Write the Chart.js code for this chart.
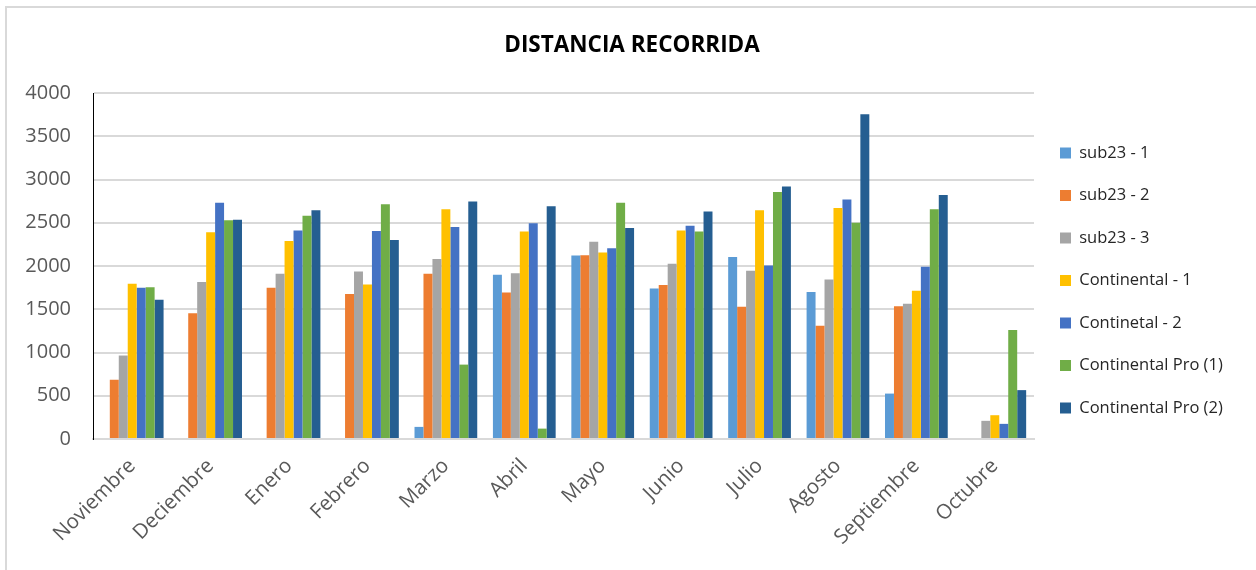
<!DOCTYPE html>
<html>
<head>
<meta charset="utf-8">
<script src="https://cdn.jsdelivr.net/npm/chart.js@4.4.1/dist/chart.umd.min.js"></script>
<style>
    html, body {
        margin: 0;
        padding: 0;
        background: #FFFFFF;
    }
    #wrap {
        position: relative;
        width: 1256px;
        height: 570px;
    }
    #frame {
        position: absolute;
        left: 5px;
        top: 6px;
        right: 0;
        bottom: 0;
        border-left: 2px solid #D9D9D9;
        border-top: 2px solid #D9D9D9;
    }
    canvas {
        position: absolute;
        left: 0;
        top: 0;
    }
</style>
</head>
<body>
<div id="wrap">
    <div id="frame"></div>
    <canvas id="distanceChart" width="1256" height="570"></canvas>
</div>
<script>
// ==========================================
// Distancia recorrida - bar chart
// ==========================================

const months = ["Noviembre", "Deciembre", "Enero", "Febrero", "Marzo", "Abril",
    "Mayo", "Junio", "Julio", "Agosto", "Septiembre", "Octubre"];

const sub23_1 = [0, 0, 0, 0, 140, 1900, 2120, 1740, 2105, 1700, 525, 0];
const sub23_2 = [685, 1455, 1750, 1675, 1910, 1695, 2125, 1780, 1530, 1310, 1535, 0];
const sub23_3 = [965, 1815, 1910, 1935, 2080, 1915, 2280, 2025, 1945, 1845, 1565, 210];
const continental_1 = [1795, 2390, 2290, 1785, 2655, 2400, 2155, 2410, 2645, 2670, 1715, 275];
const continetal_2 = [1750, 2730, 2410, 2405, 2450, 2495, 2205, 2465, 2005, 2770, 1990, 175];
const continentalPro_1 = [1755, 2530, 2580, 2715, 860, 120, 2730, 2400, 2855, 2500, 2655, 1260];
const continentalPro_2 = [1610, 2535, 2645, 2300, 2745, 2690, 2440, 2630, 2920, 3755, 2820, 565];

const yTicks = [0, 500, 1000, 1500, 2000, 2500, 3000, 3500, 4000];

const seriesNames = ["sub23 - 1", "sub23 - 2", "sub23 - 3", "Continental - 1",
    "Continetal - 2", "Continental Pro (1)", "Continental Pro (2)"];
const seriesColors = ["#5B9BD5", "#ED7D31", "#A5A5A5", "#FFC000",
    "#4472C4", "#70AD47", "#255E91"];
const seriesData = [sub23_1, sub23_2, sub23_3, continental_1,
    continetal_2, continentalPro_1, continentalPro_2];

const datasets = seriesNames.map(function (name, i) {
    return {
        label: name,
        data: seriesData[i],
        backgroundColor: seriesColors[i],
        borderWidth: 0,
        categoryPercentage: 0.8,
        barPercentage: 1.0
    };
});

// keep the legend column a fixed width so the plot ends where it should
const legendWidth = {
    id: "legendWidth",
    beforeLayout: function (chart) {
        const lg = chart.legend;
        if (lg && !lg._fixedWidth) {
            const fit = lg.fit;
            lg.fit = function () {
                fit.call(this);
                this.width = 222;
            };
            lg._fixedWidth = true;
        }
    }
};

const distanceChart = new Chart(
    document.getElementById("distanceChart"),
    {
        type: "bar",

        data: {
            labels: months,
            datasets: datasets
        },

        plugins: [legendWidth],

        options: {
            responsive: false,
            animation: false,

            layout: {
                padding: {
                    left: 8,
                    top: 0,
                    right: 0,
                    bottom: 9
                }
            },

            plugins: {
                title: {
                    display: true,
                    text: "DISTANCIA RECORRIDA",
                    color: "#000000",
                    font: {
                        family: "'Open Sans'",
                        size: 22.5,
                        weight: "bold"
                    },
                    padding: {
                        top: 32,
                        bottom: 34
                    }
                },
                legend: {
                    display: true,
                    position: "right",
                    labels: {
                        color: "#262626",
                        font: {
                            family: "'Open Sans'",
                            size: 16.5
                        },
                        boxWidth: 11,
                        boxHeight: 11,
                        padding: 26
                    }
                },
                tooltip: {
                    enabled: false
                }
            },

            scales: {
                x: {
                    grid: {
                        display: false,
                        drawTicks: false
                    },
                    border: {
                        color: "#D9D9D9",
                        width: 2
                    },
                    ticks: {
                        color: "#595959",
                        font: {
                            family: "'Open Sans'",
                            size: 20.5
                        },
                        minRotation: 45,
                        maxRotation: 45,
                        padding: 15
                    },
                    afterFit: function (scale) {
                        scale.height = 122;
                    }
                },
                y: {
                    min: 0,
                    max: 4000,
                    afterBuildTicks: function (scale) {
                        scale.ticks = yTicks.map(function (v) {
                            return { value: v };
                        });
                    },
                    grid: {
                        color: "#D9D9D9",
                        lineWidth: 2,
                        drawTicks: false
                    },
                    border: {
                        color: "#000000",
                        width: 1
                    },
                    ticks: {
                        color: "#595959",
                        font: {
                            family: "'Open Sans'",
                            size: 20
                        },
                        padding: 22,
                        callback: function (value) {
                            return String(value);
                        }
                    },
                    afterFit: function (scale) {
                        scale.width = 85;
                    }
                }
            }
        }
    }
);
</script>
</body>
</html>
